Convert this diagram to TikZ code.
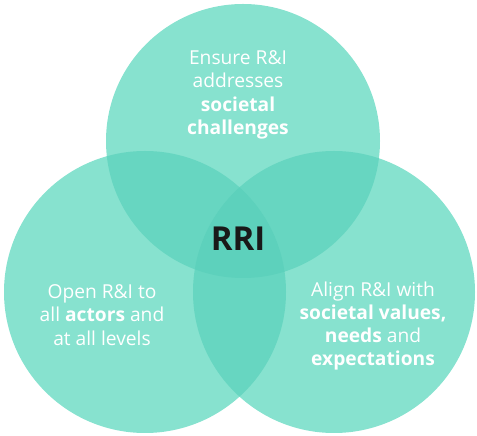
\documentclass[tikz,border=0pt]{standalone}
\usepackage{fontspec}
\setmainfont{Open Sans}
\definecolor{tealone}{HTML}{87E2CF}
\definecolor{tealtwo}{HTML}{67D6C1}
\definecolor{tealthree}{HTML}{5DD1BC}
\tikzset{
  lbl/.style={text=white, align=center, font=\fontsize{19.2}{23.3}\selectfont, inner sep=0pt},
  core/.style={text=black!90, font=\fontsize{33}{36}\selectfont\bfseries, inner sep=0pt}
}
\begin{document}
\begin{tikzpicture}[x=1pt,y=1pt]
\useasboundingbox (0,0) rectangle (477,436);
\def\circT{(243,295) circle (137)}
\def\circL{(145,144) circle (141)}
\def\circR{(334,144) circle (141)}
\fill[tealone] \circT;
\fill[tealone] \circL;
\fill[tealone] \circR;
\begin{scope}\clip \circT; \fill[tealtwo] \circL; \fill[tealtwo] \circR; \end{scope}
\begin{scope}\clip \circL; \fill[tealtwo] \circR; \end{scope}
\begin{scope}\clip \circT; \clip \circL; \fill[tealthree] \circR; \end{scope}
\node[lbl] (top) at (238,341) {Ensure R\&I\\addresses\\\textbf{societal}\\\textbf{challenges}};
\node[lbl] (left) at (102,121) {Open R\&I to\\all \textbf{actors} and\\at all levels};
\node[lbl] (right) at (373,110) {Align R\&I with\\\textbf{societal values,}\\\textbf{needs} and\\\textbf{expectations}};
\node[core] (rri) at (238,197) {RRI};
\end{tikzpicture}
\end{document}
